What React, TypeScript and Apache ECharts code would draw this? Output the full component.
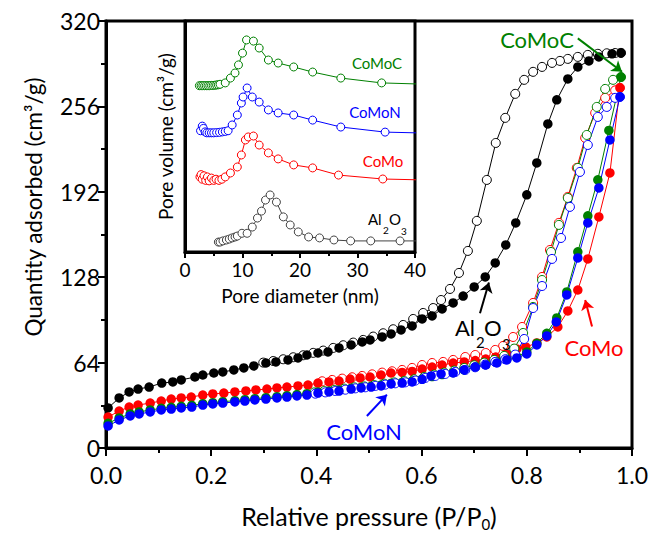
import React, { useEffect, useRef } from "react";
import * as echarts from "echarts";

const FONT = "Lato, 'Open Sans', sans-serif";
const BLACK = "#000000";
const RED = "#ff0000";
const GREEN = "#008000";
const BLUE = "#0000ff";
const GREY = "#444444";

// ---- main isotherm: [P/P0, quantity adsorbed] ----
const al2o3Ads = [
  [0.004, 30.0], [0.025, 37.5], [0.044, 42.0], [0.061, 44.2], [0.082, 45.7], [0.106, 48.7], [0.127, 49.5],
  [0.143, 51.0], [0.169, 53.2], [0.184, 54.7], [0.205, 56.2], [0.222, 57.0], [0.243, 58.5], [0.262, 60.0],
  [0.281, 61.5], [0.304, 63.7], [0.323, 64.5], [0.346, 66.0], [0.365, 67.5], [0.382, 69.7], [0.403, 71.2],
  [0.422, 72.0], [0.443, 75.0], [0.466, 77.2], [0.487, 79.5], [0.502, 81.0], [0.525, 83.2], [0.542, 85.5],
  [0.561, 88.5], [0.582, 91.5], [0.601, 96.7], [0.620, 99.0], [0.639, 104.2], [0.660, 108.7], [0.679, 113.9],
  [0.700, 120.7], [0.721, 128.2], [0.740, 138.7], [0.760, 152.2], [0.779, 168.7], [0.800, 189.7],
  [0.819, 213.6], [0.840, 242.9], [0.857, 260.9], [0.878, 276.6], [0.897, 285.6], [0.918, 290.1],
  [0.937, 293.1], [0.962, 295.4], [0.979, 296.1],
];
const al2o3Des = [
  [0.979, 296.1], [0.968, 296.0], [0.952, 295.8], [0.935, 295.4], [0.916, 294.6], [0.897, 293.1],
  [0.878, 291.6], [0.863, 290.1], [0.848, 288.6], [0.829, 285.6], [0.812, 281.9], [0.795, 275.9],
  [0.778, 265.4], [0.759, 247.4], [0.741, 228.6], [0.724, 200.9], [0.705, 170.2], [0.688, 147.7],
  [0.671, 131.2], [0.654, 119.2], [0.637, 110.9], [0.622, 104.9], [0.603, 101.2], [0.584, 96.7],
  [0.565, 92.2], [0.546, 89.0], [0.527, 86.0], [0.508, 83.5], [0.489, 81.0], [0.470, 79.0], [0.451, 77.0],
  [0.432, 75.0], [0.413, 73.0], [0.394, 71.3], [0.375, 69.5], [0.356, 68.0], [0.337, 66.5], [0.318, 65.2],
  [0.299, 64.0],
];
const comoAds = [
  [0.004, 23.2], [0.025, 27.7], [0.044, 30.7], [0.061, 32.2], [0.084, 33.7], [0.105, 35.2], [0.124, 36.7],
  [0.143, 37.5], [0.162, 38.2], [0.184, 39.7], [0.203, 40.5], [0.224, 41.2], [0.245, 42.0], [0.266, 42.8],
  [0.285, 43.5], [0.306, 44.2], [0.325, 45.0], [0.344, 45.7], [0.365, 46.5], [0.384, 47.2], [0.403, 48.7],
  [0.424, 49.5], [0.443, 50.2], [0.464, 51.7], [0.483, 52.5], [0.502, 53.2], [0.523, 54.7], [0.542, 56.2],
  [0.563, 56.6], [0.582, 57.4], [0.601, 59.2], [0.620, 60.7], [0.639, 62.2], [0.660, 63.7], [0.681, 64.5],
  [0.702, 65.5], [0.722, 66.7], [0.741, 68.2], [0.762, 70.5], [0.781, 74.2], [0.798, 75.7], [0.819, 78.7],
  [0.838, 83.2], [0.859, 90.7], [0.878, 102.7], [0.897, 118.4], [0.916, 141.7], [0.937, 173.2],
  [0.958, 206.1], [0.977, 269.9],
];
const comoDes = [
  [0.977, 269.9], [0.968, 268.0], [0.949, 262.4], [0.930, 251.1], [0.911, 232.4], [0.895, 209.9],
  [0.878, 188.2], [0.861, 168.7], [0.844, 148.4], [0.829, 128.2], [0.812, 108.7], [0.791, 90.7],
  [0.774, 83.2], [0.755, 76.5], [0.740, 73.5], [0.722, 71.2], [0.702, 69.7], [0.683, 68.2], [0.660, 66.0],
  [0.641, 64.5], [0.620, 63.7], [0.601, 62.2], [0.582, 60.0], [0.563, 58.5], [0.544, 57.5], [0.525, 56.5],
  [0.506, 55.2], [0.487, 54.0], [0.468, 53.0], [0.449, 52.0], [0.430, 51.0], [0.411, 50.0],
];
const comocAds = [
  [0.004, 18.5], [0.025, 22.5], [0.046, 25.5], [0.063, 27.0], [0.084, 28.5], [0.105, 29.7], [0.124, 30.5],
  [0.143, 31.2], [0.163, 32.0], [0.184, 33.2], [0.203, 34.0], [0.222, 34.7], [0.245, 35.5], [0.264, 36.2],
  [0.283, 37.0], [0.304, 37.7], [0.325, 38.5], [0.344, 39.2], [0.363, 40.0], [0.382, 40.7], [0.403, 42.0],
  [0.424, 42.7], [0.443, 43.5], [0.466, 44.7], [0.485, 45.5], [0.504, 46.2], [0.523, 47.2], [0.542, 48.5],
  [0.563, 49.2], [0.582, 50.2], [0.601, 51.7], [0.620, 53.5], [0.639, 55.0], [0.660, 56.5], [0.681, 58.5],
  [0.702, 60.7], [0.722, 62.5], [0.743, 64.5], [0.762, 66.5], [0.781, 68.5], [0.800, 72.0], [0.819, 78.5],
  [0.838, 86.0], [0.857, 97.5], [0.876, 117.0], [0.897, 147.0], [0.916, 174.0], [0.935, 201.0],
  [0.956, 238.0], [0.979, 278.0],
];
const comocDes = [
  [0.979, 278.0], [0.964, 275.9], [0.949, 269.1], [0.933, 255.6], [0.914, 234.6], [0.897, 209.9],
  [0.878, 187.4], [0.861, 167.2], [0.846, 146.9], [0.829, 125.9], [0.812, 105.7], [0.793, 86.2],
  [0.776, 74.5], [0.757, 69.0], [0.738, 66.0], [0.719, 64.0], [0.700, 62.0], [0.681, 60.0], [0.662, 58.0],
  [0.643, 56.5], [0.624, 55.0], [0.605, 53.2], [0.586, 51.5], [0.567, 50.2], [0.548, 49.2], [0.529, 48.2],
  [0.510, 47.2], [0.491, 46.2], [0.472, 45.5], [0.453, 44.5], [0.434, 43.5], [0.415, 42.7], [0.396, 41.7],
];
const comonAds = [
  [0.004, 16.5], [0.025, 21.0], [0.046, 24.0], [0.063, 25.5], [0.084, 27.0], [0.105, 28.5], [0.124, 29.2],
  [0.143, 30.0], [0.163, 30.7], [0.184, 32.2], [0.203, 33.0], [0.222, 33.7], [0.245, 34.5], [0.264, 35.2],
  [0.283, 36.0], [0.304, 36.7], [0.325, 37.5], [0.344, 38.2], [0.363, 39.0], [0.382, 39.7], [0.403, 41.2],
  [0.424, 42.0], [0.443, 42.7], [0.466, 44.2], [0.485, 45.0], [0.504, 45.7], [0.523, 46.5], [0.542, 48.0],
  [0.563, 48.7], [0.582, 49.5], [0.601, 51.5], [0.618, 54.0], [0.637, 55.5], [0.660, 56.2], [0.681, 58.5],
  [0.702, 60.7], [0.722, 62.2], [0.743, 63.7], [0.762, 66.0], [0.781, 67.5], [0.800, 70.5], [0.819, 77.2],
  [0.838, 84.0], [0.856, 94.5], [0.876, 114.7], [0.897, 142.4], [0.916, 168.7], [0.937, 194.9],
  [0.958, 230.9], [0.977, 263.1],
];
const comonDes = [
  [0.977, 263.1], [0.968, 262.4], [0.952, 255.6], [0.935, 248.1], [0.916, 227.1], [0.901, 206.9],
  [0.882, 180.7], [0.865, 157.4], [0.848, 141.7], [0.829, 121.4], [0.812, 104.9], [0.795, 81.7],
  [0.778, 70.0], [0.759, 66.5], [0.740, 64.5], [0.721, 62.5], [0.702, 60.5], [0.683, 58.5], [0.664, 57.0],
  [0.645, 55.5], [0.626, 54.0], [0.607, 52.5], [0.588, 50.5], [0.569, 49.2], [0.550, 48.5], [0.531, 47.5],
  [0.512, 46.5], [0.493, 45.5], [0.474, 44.7], [0.455, 43.7], [0.436, 42.7], [0.417, 41.7], [0.398, 40.7],
];

// ---- inset pore size distribution: [pore diameter nm, offset volume (a.u.)] ----
const psdAl2o3 = [
  [5.8, 4.3], [6.1, 4.3], [6.6, 4.8], [7.2, 5.2], [7.7, 5.6], [8.2, 6.1], [8.7, 6.5], [9.1, 6.9], [9.9, 8.1],
  [10.8, 8.1], [11.7, 10.8], [12.6, 14.7], [13.3, 17.7], [14.0, 22.5], [14.8, 24.7], [15.9, 21.6],
  [17.1, 15.2], [18.3, 11.7], [19.7, 8.7], [21.5, 6.5], [23.4, 6.1], [25.9, 5.2], [28.8, 4.8], [32.3, 4.8],
  [37.4, 4.8], [45.0, 4.8],
];
const psdComo = [
  [2.6, 32.5], [2.8, 33.5], [3.0, 31.5], [3.3, 33.0], [3.6, 31.0], [3.9, 32.5], [4.2, 30.8], [4.6, 32.0],
  [5.0, 31.0], [5.4, 31.5], [5.9, 31.0], [6.4, 31.5], [7.0, 32.5], [7.9, 34.2], [9.1, 36.8], [9.8, 42.0],
  [10.5, 48.5], [11.0, 49.8], [11.9, 50.2], [12.9, 46.3], [14.5, 42.9], [16.2, 40.3], [18.9, 37.7],
  [22.2, 36.4], [26.7, 33.3], [34.4, 31.6], [45.0, 31.0],
];
const psdComon = [
  [2.7, 52.5], [3.0, 54.5], [3.2, 53.5], [3.5, 52.0], [3.8, 51.6], [4.2, 51.6], [4.6, 51.6], [5.0, 51.6],
  [5.5, 51.7], [6.0, 51.8], [6.5, 52.0], [7.0, 52.2], [7.5, 52.5], [8.2, 55.0], [9.1, 59.3], [9.8, 64.5],
  [10.1, 67.1], [10.8, 71.0], [11.7, 67.1], [12.9, 64.9], [14.5, 61.5], [16.2, 60.2], [18.9, 59.3],
  [22.2, 57.1], [27.1, 54.1], [34.8, 51.9], [45.0, 51.3],
];
const psdComoc = [
  [2.5, 72.0], [2.8, 72.0], [3.1, 72.0], [3.4, 72.0], [3.7, 72.0], [4.0, 72.0], [4.3, 72.0], [4.6, 72.1],
  [4.9, 72.1], [5.2, 72.2], [5.5, 72.3], [5.8, 72.4], [6.1, 72.6], [7.0, 73.2], [7.9, 75.3], [8.7, 77.5],
  [9.3, 81.0], [10.0, 86.1], [10.7, 91.8], [11.9, 91.3], [12.9, 88.3], [14.5, 83.1], [16.2, 81.8],
  [18.9, 80.1], [22.2, 77.9], [27.1, 75.3], [34.2, 73.2], [45.0, 72.4],
];

const mainXTicks = [0, 0.2, 0.4, 0.6, 0.8, 1.0];
const mainYTicks = [0, 64, 128, 192, 256, 320];
const insetXTicks = [0, 10, 20, 30, 40];

// arrows [from, to] in data coordinates of the main plot
const arrowCoMoC = [[0.897, 307], [0.981, 282]];
const arrowAl2O3 = [[0.711, 101], [0.728, 124]];
const arrowCoMo = [[0.924, 91], [0.911, 111]];
const arrowCoMoN = [[0.496, 24], [0.534, 40]];

function iso(name: string, data: number[][], color: string, filled: boolean) {
  return {
    type: "line",
    name,
    data,
    xAxisIndex: 0,
    yAxisIndex: 0,
    symbol: "circle",
    symbolSize: filled ? 9.5 : 9,
    clip: false,
    lineStyle: { width: 1, color },
    itemStyle: filled
      ? { color, borderWidth: 0 }
      : { color: "#ffffff", borderColor: color, borderWidth: 1 },
    z: 2,
  };
}

function psd(name: string, data: number[][], color: string) {
  return {
    type: "line",
    name,
    data,
    xAxisIndex: 1,
    yAxisIndex: 1,
    symbol: "circle",
    symbolSize: 8,
    clip: true,
    lineStyle: { width: 1, color },
    itemStyle: { color: "#ffffff", borderColor: color, borderWidth: 1 },
    z: 6,
  };
}

function arrow(pts: number[][], color: string) {
  return {
    type: "line",
    data: [],
    xAxisIndex: 0,
    yAxisIndex: 0,
    z: 7,
    markLine: {
      silent: true,
      symbol: ["none", "arrow"],
      symbolSize: 10,
      label: { show: false },
      lineStyle: { color, width: 2, type: "solid" },
      itemStyle: { color },
      data: [[{ coord: pts[0] }, { coord: pts[1] }]],
    },
  };
}

export default function App() {
  const ref = useRef<HTMLDivElement>(null);
  useEffect(() => {
    const chart = echarts.init(ref.current!, null, { renderer: "svg" });
    const axisLine = { show: true, lineStyle: { color: BLACK, width: 3 } };
    const option: any = {
      animation: false,
      backgroundColor: "#ffffff",
      textStyle: { fontFamily: FONT },
      grid: [
        { left: 106, right: 20, top: 21, bottom: 90, show: true, borderColor: BLACK, borderWidth: 3, z: 1 },
        { left: 185, right: 237, top: 21, bottom: 286, show: true, borderColor: BLACK, borderWidth: 3, backgroundColor: "#ffffff", z: 5 },
      ],
      xAxis: [
        {
          type: "value", gridIndex: 0, min: 0, max: 1, interval: 0.2,
          axisLine, splitLine: { show: false },
          axisTick: { show: true, length: 8, lineStyle: { width: 2, color: BLACK } },
          minorTick: { show: true, splitNumber: 2, length: 5, lineStyle: { width: 2, color: BLACK } },
          axisLabel: { fontSize: 23, color: BLACK, margin: 15, fontFamily: FONT,
            formatter: (v: number) => (mainXTicks.includes(+v.toFixed(1)) ? v.toFixed(1) : "") },
          name: "Relative pressure (P/P{sub|0})",
          nameLocation: "middle", nameGap: 53,
          nameTextStyle: { fontSize: 25, color: BLACK, fontFamily: FONT,
            rich: { sub: { fontSize: 15, padding: [15, 0, 0, 0], fontFamily: FONT, color: BLACK } } },
        },
        {
          type: "value", gridIndex: 1, min: 0, max: 40, interval: 10, z: 6,
          axisLine, splitLine: { show: false },
          axisTick: { show: true, length: 6, lineStyle: { width: 2, color: BLACK } },
          minorTick: { show: true, splitNumber: 2, length: 4, lineStyle: { width: 2, color: BLACK } },
          axisLabel: { fontSize: 19, color: BLACK, margin: 8, fontFamily: FONT,
            formatter: (v: number) => (insetXTicks.includes(v) ? String(v) : "") },
          name: "Pore diameter (nm)", nameLocation: "middle", nameGap: 34,
          nameTextStyle: { fontSize: 19, color: BLACK, fontFamily: FONT },
        },
      ],
      yAxis: [
        {
          type: "value", gridIndex: 0, min: 0, max: 320, interval: 64,
          axisLine, splitLine: { show: false },
          axisTick: { show: true, length: 8, lineStyle: { width: 2, color: BLACK } },
          minorTick: { show: true, splitNumber: 2, length: 5, lineStyle: { width: 2, color: BLACK } },
          axisLabel: { fontSize: 23, color: BLACK, margin: 6, fontFamily: FONT,
            formatter: (v: number) => (mainYTicks.includes(v) ? String(v) : "") },
        },
        {
          type: "value", gridIndex: 1, min: 0, max: 100, z: 6,
          axisLine, splitLine: { show: false },
          axisTick: { show: false }, axisLabel: { show: false },
          name: "Pore volume (cm³/g)", nameLocation: "middle", nameGap: 10,
          nameTextStyle: { fontSize: 19, color: BLACK, fontFamily: FONT },
        },
      ],
      series: [
        iso("Al2O3 desorption", al2o3Des, BLACK, false),
        iso("Al2O3 adsorption", al2o3Ads, BLACK, true),
        iso("CoMo desorption", comoDes, RED, false),
        iso("CoMo adsorption", comoAds, RED, true),
        iso("CoMoC desorption", comocDes, GREEN, false),
        iso("CoMoC adsorption", comocAds, GREEN, true),
        iso("CoMoN desorption", comonDes, BLUE, false),
        iso("CoMoN adsorption", comonAds, BLUE, true),
        psd("Al2O3 PSD", psdAl2o3, GREY),
        psd("CoMo PSD", psdComo, RED),
        psd("CoMoN PSD", psdComon, BLUE),
        psd("CoMoC PSD", psdComoc, GREEN),
        arrow(arrowCoMoC, GREEN),
        arrow(arrowAl2O3, BLACK),
        arrow(arrowCoMo, RED),
        arrow(arrowCoMoN, BLUE),
      ],
      graphic: [
        { type: "text", x: 33, y: 207, rotation: Math.PI / 2, z: 10, style: { text: "Quantity adsorbed (cm³/g)", fill: BLACK, font: `22.5px ${FONT}`, textAlign: "center", textVerticalAlign: "middle" } },
        { type: "text", x: 537, y: 39, z: 10, style: { text: "CoMoC", fill: GREEN, font: `22px ${FONT}`, textAlign: "center", textVerticalAlign: "middle" } },
        { type: "text", x: 594, y: 347, z: 10, style: { text: "CoMo", fill: RED, font: `22px ${FONT}`, textAlign: "center", textVerticalAlign: "middle" } },
        { type: "text", x: 364, y: 431, z: 10, style: { text: "CoMoN", fill: BLUE, font: `22px ${FONT}`, textAlign: "center", textVerticalAlign: "middle" } },
        { type: "text", x: 455, y: 327, z: 10, style: { text: "Al", fill: BLACK, font: `22px ${FONT}`, textAlign: "left", textVerticalAlign: "middle" } },
        { type: "text", x: 476, y: 342, z: 10, style: { text: "2", fill: BLACK, font: `15px ${FONT}`, textAlign: "left", textVerticalAlign: "middle" } },
        { type: "text", x: 484, y: 327, z: 10, style: { text: "O", fill: BLACK, font: `22px ${FONT}`, textAlign: "left", textVerticalAlign: "middle" } },
        { type: "text", x: 502, y: 344, z: 10, style: { text: "3", fill: BLACK, font: `15px ${FONT}`, textAlign: "left", textVerticalAlign: "middle" } },
        { type: "text", x: 377, y: 63, z: 10, style: { text: "CoMoC", fill: GREEN, font: `15px ${FONT}`, textAlign: "center", textVerticalAlign: "middle" } },
        { type: "text", x: 375, y: 112, z: 10, style: { text: "CoMoN", fill: BLUE, font: `15px ${FONT}`, textAlign: "center", textVerticalAlign: "middle" } },
        { type: "text", x: 383, y: 161, z: 10, style: { text: "CoMo", fill: RED, font: `15px ${FONT}`, textAlign: "center", textVerticalAlign: "middle" } },
        { type: "text", x: 368, y: 219, z: 10, style: { text: "Al", fill: BLACK, font: `15px ${FONT}`, textAlign: "left", textVerticalAlign: "middle" } },
        { type: "text", x: 383, y: 230, z: 10, style: { text: "2", fill: BLACK, font: `10px ${FONT}`, textAlign: "left", textVerticalAlign: "middle" } },
        { type: "text", x: 389, y: 219, z: 10, style: { text: "O", fill: BLACK, font: `15px ${FONT}`, textAlign: "left", textVerticalAlign: "middle" } },
        { type: "text", x: 401, y: 231, z: 10, style: { text: "3", fill: BLACK, font: `10px ${FONT}`, textAlign: "left", textVerticalAlign: "middle" } },
      ],
    };
    chart.setOption(option);
    return () => chart.dispose();
  }, []);
  return <div ref={ref} style={{ position: "absolute", left: 0, top: 0, width: 652, height: 538 }} />;
}
